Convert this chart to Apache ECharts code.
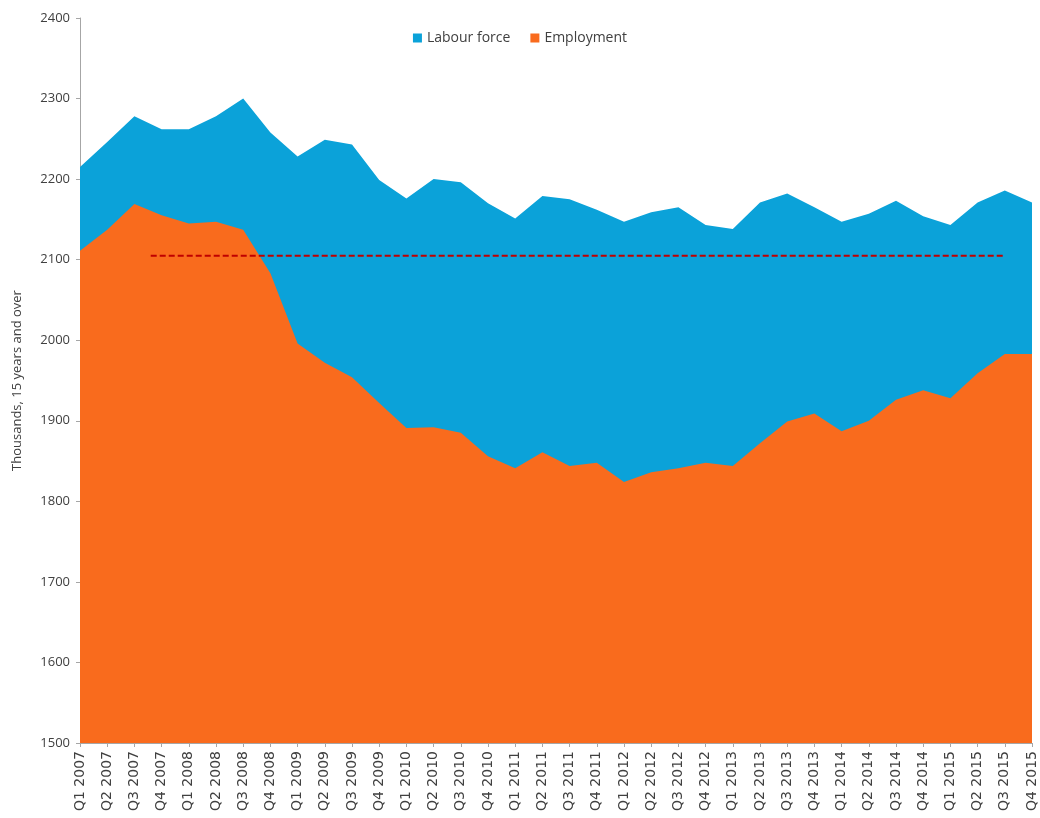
<!DOCTYPE html>
<html>
<head>
<meta charset="utf-8">
<script src="https://cdn.jsdelivr.net/npm/echarts@6/dist/echarts.min.js"></script>
<style>
  html, body { margin: 0; padding: 0; background: #fff; }
  #mainChart { width: 1040px; height: 818px; }
</style>
</head>
<body>
<div id="mainChart"></div>
<script type="text/javascript">
// quarters
var quarters = [
    'Q1 2007','Q2 2007','Q3 2007','Q4 2007','Q1 2008','Q2 2008','Q3 2008','Q4 2008',
    'Q1 2009','Q2 2009','Q3 2009','Q4 2009','Q1 2010','Q2 2010','Q3 2010','Q4 2010',
    'Q1 2011','Q2 2011','Q3 2011','Q4 2011','Q1 2012','Q2 2012','Q3 2012','Q4 2012',
    'Q1 2013','Q2 2013','Q3 2013','Q4 2013','Q1 2014','Q2 2014','Q3 2014','Q4 2014',
    'Q1 2015','Q2 2015','Q3 2015','Q4 2015'
];
// thousands, 15 years and over
var labourForce = [
    2215, 2246, 2278, 2262, 2262, 2278, 2300, 2258,
    2228, 2249, 2243, 2199, 2176, 2200, 2196, 2170,
    2151, 2179, 2175, 2162, 2147, 2159, 2165, 2143,
    2138, 2171, 2182, 2165, 2147, 2157, 2173, 2154,
    2143, 2171, 2186, 2171
];
var employment = [
    2111, 2137, 2169, 2155, 2145, 2147, 2137, 2083,
    1996, 1972, 1954, 1922, 1891, 1892, 1885, 1856,
    1841, 1861, 1844, 1848, 1824, 1836, 1841, 1848,
    1844, 1872, 1899, 1909, 1887, 1900, 1926, 1938,
    1928, 1959, 1983, 1983
];
// dashed reference level (x given as quarter index)
var refLine = [[2.6, 2105], [34, 2105]];
var yTicks = { min: 1500, max: 2400, step: 100 };

var myChart = echarts.init(document.getElementById('mainChart'));
var txt = '#404040';
var axisGrey = '#a6a6a6';

var options = {
    animation: false,
    textStyle: { fontFamily: 'Open Sans' },
    legend: {
        data: ['Labour force', 'Employment'],
        top: 26,
        left: 'center',
        icon: 'rect',
        itemWidth: 9,
        itemHeight: 9,
        itemGap: 20,
        textStyle: { color: txt, fontSize: 14, fontFamily: 'Open Sans' }
    },
    grid: { left: 80, right: 8, top: 18, bottom: 75 },
    xAxis: [{
        type: 'category',
        data: quarters,
        boundaryGap: false,
        axisLine: { lineStyle: { color: axisGrey } },
        axisTick: { show: true, length: 4, alignWithLabel: true, lineStyle: { color: axisGrey } },
        axisLabel: { rotate: 90, interval: 0, margin: 8, color: txt, fontSize: 14, fontFamily: 'DejaVu Sans' },
        splitLine: { show: false }
    }, {
        type: 'value',
        min: 0,
        max: quarters.length - 1,
        show: false
    }],
    yAxis: {
        type: 'value',
        min: yTicks.min,
        max: yTicks.max,
        interval: yTicks.step,
        name: 'Thousands, 15 years and over',
        nameLocation: 'middle',
        nameGap: 56,
        nameTextStyle: { color: txt, fontSize: 13, fontFamily: 'Open Sans' },
        axisLine: { show: true, lineStyle: { color: axisGrey } },
        axisTick: { show: true, length: 4, lineStyle: { color: axisGrey } },
        axisLabel: {
            color: txt, fontSize: 13, margin: 10,
            formatter: function (v) { return String(v); }
        },
        splitLine: { show: false }
    },
    series: [{
        name: 'Labour force',
        type: 'line',
        data: labourForce,
        symbol: 'none',
        lineStyle: { width: 0 },
        itemStyle: { color: '#0ba2d9' },
        areaStyle: { color: '#0ba2d9', opacity: 1 }
    }, {
        name: 'Employment',
        type: 'line',
        data: employment,
        symbol: 'none',
        lineStyle: { width: 0 },
        itemStyle: { color: '#f96b1d' },
        areaStyle: { color: '#f96b1d', opacity: 1 }
    }, {
        name: 'Reference',
        type: 'line',
        xAxisIndex: 1,
        data: refLine,
        symbol: 'none',
        z: 5,
        lineStyle: { color: '#c00000', width: 2, type: [6, 3] }
    }]
};
myChart.setOption(options);
</script>
</body>
</html>
